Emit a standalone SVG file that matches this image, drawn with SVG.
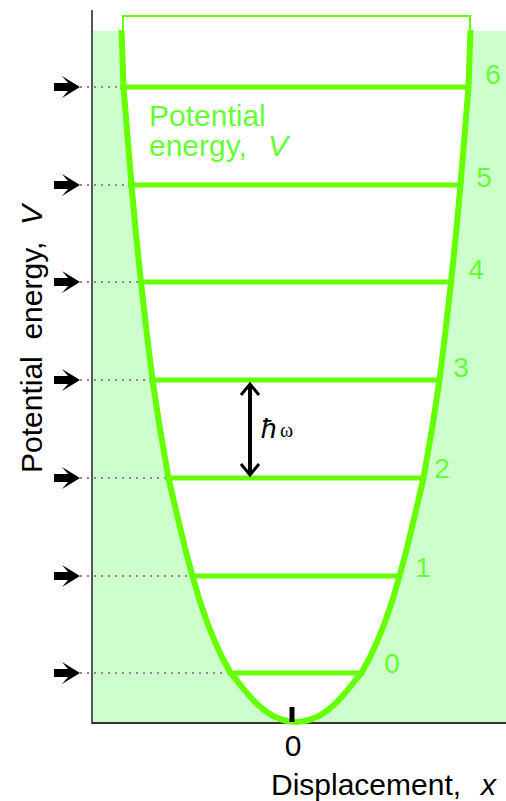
<svg xmlns="http://www.w3.org/2000/svg" width="506" height="801" viewBox="0 0 506 801">
<style>
.lvl{stroke:#66ff00;stroke-width:5;fill:none}
.dot{stroke:#8a8a8a;stroke-width:2;stroke-dasharray:2 5;fill:none}
.num{font-family:"Liberation Sans",Arial,sans-serif;font-size:28px;fill:#66ff33;text-anchor:middle}
.lab{font-family:"Liberation Sans",Arial,sans-serif;font-size:30px;fill:#000;white-space:pre}
.glab{font-family:"Liberation Sans",Arial,sans-serif;font-size:30px;fill:#66ff33;white-space:pre}
</style>
<defs>
<path id="arr" d="M54,-4 L68,-4 L62,-11 L80,0 L62,11 L68,4 L54,4 Z" fill="#000"/>
</defs>
<rect width="506" height="801" fill="#fff"/>
<g id="background">
<rect x="93" y="31" width="413" height="692" fill="#ccffcc"/>
<polygon fill="#fff" points="121.5,31 123.5,87 127.5,136 131.5,185 136,234 141,282 146.5,331 152.5,380 160,429 168.5,478 174,502 180,527 186,552 192.5,576 199.5,600 207,622 215,642 222,657 230.5,673 238,682 246,692 255,702 264,710 273,716 280,719 287,721 296,722 305,721 312,719 319,716 328,710 337,702 346,692 354,682 361.5,673 370,657 377,642 385,622 392.5,600 399.5,576 406,552 412,527 418,502 423.5,478 432,429 439.5,380 445.5,331 451,282 456,234 460.5,185 464.5,136 468.5,87 470.5,31"/>
</g>
<g id="connectors">
<path class="dot" d="M80,87H124 M80,185H131 M80,282H141 M80,380H152 M80,478H168 M80,576H192 M80,673H230"/>
<use href="#arr" y="87"/><use href="#arr" y="185"/><use href="#arr" y="282"/><use href="#arr" y="380"/><use href="#arr" y="478"/><use href="#arr" y="576"/><use href="#arr" y="673"/>
</g>
<g id="axes">
<line x1="92" y1="10" x2="92" y2="724" stroke="#555" stroke-width="2"/>
<line x1="92" y1="723" x2="506" y2="723" stroke="#333" stroke-width="2"/>
</g>
<g id="bracket">
<polyline points="123,31 123,16 470,16 470,31" fill="none" stroke="#66ff00" stroke-width="2"/>
</g>
<g id="levels">
<line class="lvl" x1="120" y1="87" x2="471" y2="87"/>
<line class="lvl" x1="128" y1="185" x2="463" y2="185"/>
<line class="lvl" x1="138" y1="282" x2="454" y2="282"/>
<line class="lvl" x1="149" y1="380" x2="442" y2="380"/>
<line class="lvl" x1="165" y1="478" x2="426" y2="478"/>
<line class="lvl" x1="190" y1="576" x2="402" y2="576"/>
<line class="lvl" x1="228" y1="673" x2="364" y2="673"/>
</g>
<g id="curve">
<polyline fill="none" stroke="#66ff00" stroke-width="6" stroke-linejoin="round" points="121.5,30 123.5,87 127.5,136 131.5,185 136,234 141,282 146.5,331 152.5,380 160,429 168.5,478 174,502 180,527 186,552 192.5,576 199.5,600 207,622 215,642 222,657 230.5,673 238,682 246,692 255,702 264,710 273,716 280,719 287,721 296,722 305,721 312,719 319,716 328,710 337,702 346,692 354,682 361.5,673 370,657 377,642 385,622 392.5,600 399.5,576 406,552 412,527 418,502 423.5,478 432,429 439.5,380 445.5,331 451,282 456,234 460.5,185 464.5,136 468.5,87 470.5,30"/>
</g>
<g id="tick">
<line x1="292" y1="707" x2="292" y2="722" stroke="#000" stroke-width="5"/>
</g>
<g id="level-labels">
<text class="num" x="493" y="84">6</text>
<text class="num" x="484" y="187">5</text>
<text class="num" x="476" y="279">4</text>
<text class="num" x="461" y="377">3</text>
<text class="num" x="442" y="478">2</text>
<text class="num" x="423" y="577">1</text>
<text class="num" x="392" y="673">0</text>
</g>
<g id="spacing">
<line x1="250" y1="386" x2="250" y2="473" stroke="#000" stroke-width="4"/>
<polyline points="241,395 250,384 259,395" fill="none" stroke="#000" stroke-width="3"/>
<polyline points="241,464 250,475 259,464" fill="none" stroke="#000" stroke-width="3"/>
<text x="261" y="438" font-family="Liberation Sans, Arial, sans-serif" font-style="italic" font-size="28" fill="#000">ħ</text>
<text x="280" y="437" font-family="Liberation Serif, Times New Roman, serif" font-size="20" fill="#000">ω</text>
</g>
<g id="curve-label">
<text class="glab" x="149" y="126">Potential</text>
<text class="glab" x="149" y="156">energy,</text>
<text class="glab" x="268" y="156" font-style="italic">V</text>
</g>
<g id="y-label">
<text class="lab" transform="translate(42,473) rotate(-90)">Potential  energy,  <tspan font-style="italic">V</tspan></text>
</g>
<g id="x-label">
<text class="lab" x="293" y="756" text-anchor="middle">0</text>
<text class="lab" x="271" y="795">Displacement,</text>
<text class="lab" x="481" y="795" font-style="italic">x</text>
</g>
</svg>
